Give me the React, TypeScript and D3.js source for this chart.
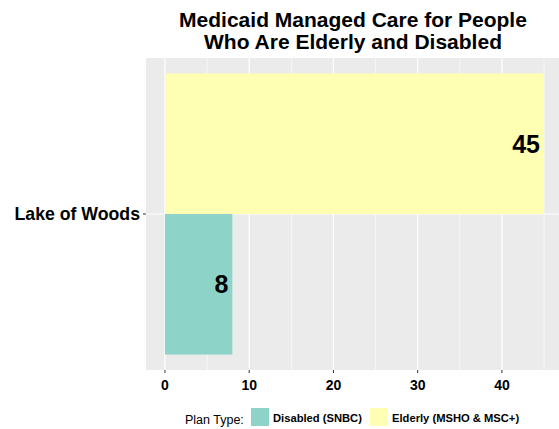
import React from "react";
import * as d3 from "d3";

const categories = ["Lake of Woods"];
const planTypes = ["Elderly (MSHO & MSC+)", "Disabled (SNBC)"];
const legendOrder = ["Disabled (SNBC)", "Elderly (MSHO & MSC+)"];
const elderlyValues = [45];
const disabledValues = [8];
const xTicks = [0, 10, 20, 30, 40];
const xMinor = [5, 15, 25, 35, 45];
const colors: Record<string, string> = {
  "Disabled (SNBC)": "#8DD3C7",
  "Elderly (MSHO & MSC+)": "#FFFFB3",
};

const W = 559;
const H = 429;
const FONT = "'Liberation Sans', Arial, sans-serif";

export default function App() {
  const panel = { left: 146, right: 563, top: 58, bottom: 370 };
  const x = d3.scaleLinear().domain([-2.25, 47.25]).range([panel.left, panel.right]);
  const y = d3
    .scaleBand<string>()
    .domain(categories)
    .range([panel.top, panel.bottom])
    .paddingInner(0)
    .paddingOuter(0.055);
  const sub = d3.scaleBand<string>().domain(planTypes).range([0, y.bandwidth()]);

  const rows = categories.map((c, i) => ({
    cat: c,
    vals: {
      "Elderly (MSHO & MSC+)": elderlyValues[i],
      "Disabled (SNBC)": disabledValues[i],
    } as Record<string, number>,
  }));

  return (
    <svg width={W} height={H} style={{ position: "absolute", left: 0, top: 0 }} fontFamily={FONT}>
      <rect x={0} y={0} width={W} height={H} fill="#fff" />
      <text x={353} y={27} textAnchor="middle" fontSize={21} fontWeight="bold" fill="#000">
        Medicaid Managed Care for People
      </text>
      <text x={353} y={49} textAnchor="middle" fontSize={21} fontWeight="bold" fill="#000">
        Who Are Elderly and Disabled
      </text>
      <rect
        x={panel.left}
        y={panel.top}
        width={panel.right - panel.left}
        height={panel.bottom - panel.top}
        fill="#EBEBEB"
      />
      {xMinor.map((t) => (
        <line key={"m" + t} x1={x(t)} x2={x(t)} y1={panel.top} y2={panel.bottom} stroke="#fff" strokeWidth={0.6} />
      ))}
      {xTicks.map((t) => (
        <line key={"g" + t} x1={x(t)} x2={x(t)} y1={panel.top} y2={panel.bottom} stroke="#fff" strokeWidth={1.2} />
      ))}
      {categories.map((c) => (
        <line
          key={"h" + c}
          x1={panel.left}
          x2={panel.right}
          y1={(y(c) as number) + y.bandwidth() / 2}
          y2={(y(c) as number) + y.bandwidth() / 2}
          stroke="#fff"
          strokeWidth={1.2}
        />
      ))}
      {rows.map((r) =>
        planTypes.map((p) => {
          const y0 = (y(r.cat) as number) + (sub(p) as number);
          const v = r.vals[p];
          return (
            <g key={r.cat + p}>
              <rect x={x(0)} y={y0} width={x(v) - x(0)} height={sub.bandwidth()} fill={colors[p]} />
              <text
                x={x(v) - 4}
                y={y0 + sub.bandwidth() / 2 + 9}
                textAnchor="end"
                fontSize={25}
                fontWeight="bold"
                fill="#000"
              >
                {v}
              </text>
            </g>
          );
        })
      )}
      {xTicks.map((t) => (
        <g key={"t" + t}>
          <line x1={x(t)} x2={x(t)} y1={panel.bottom} y2={panel.bottom + 3} stroke="#333" strokeWidth={1} />
          <text x={x(t)} y={390} textAnchor="middle" fontSize={14} fontWeight="bold" fill="#000">
            {t}
          </text>
        </g>
      ))}
      {categories.map((c) => {
        const cy = (y(c) as number) + y.bandwidth() / 2;
        return (
          <g key={"yl" + c}>
            <line x1={panel.left - 3} x2={panel.left} y1={cy} y2={cy} stroke="#333" strokeWidth={1} />
            <text x={140} y={cy + 6} textAnchor="end" fontSize={17.7} fontWeight="bold" fill="#000">
              {c}
            </text>
          </g>
        );
      })}
      <text x={185} y={424} fontSize={12.5} fill="#000">
        Plan Type:
      </text>
      {legendOrder.map((p, i) => {
        const kx = i === 0 ? 251 : 370;
        return (
          <g key={"lg" + p}>
            <rect x={kx} y={408} width={18} height={18} fill={colors[p]} />
            <text x={kx + 22} y={422} fontSize={11.2} fontWeight="bold" fill="#000">
              {p}
            </text>
          </g>
        );
      })}
    </svg>
  );
}
